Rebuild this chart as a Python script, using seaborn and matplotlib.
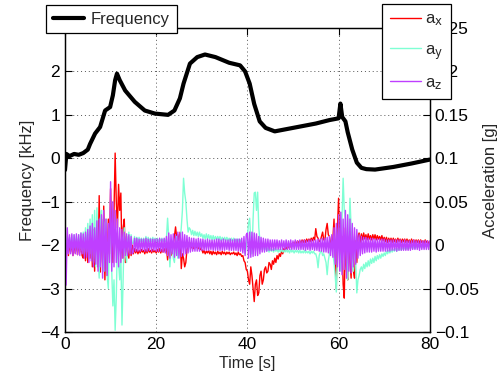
import numpy as np
import pandas as pd
import matplotlib
matplotlib.use("Agg")
import matplotlib.pyplot as plt
import seaborn as sns
from matplotlib.lines import Line2D

# frequency trace (kHz)
freq_t = [0, 0.3, 1, 2, 3, 4, 5, 5.5, 6.6, 7.7, 8.8, 9.9, 10.5, 11, 11.4, 12, 13.2,
          15.3, 17.5, 19.7, 22.6, 24, 25.2, 26, 27.4, 29, 30.7, 33, 36, 38.4, 39.5,
          40.5, 41.5, 42.7, 44, 46, 50, 55, 58, 60, 60.4, 60.8, 61.5, 62, 63, 64,
          65, 66.1, 68, 72, 76, 80]
freq_khz = [-0.27, 0.1, 0.05, 0.1, 0.08, 0.12, 0.2, 0.33, 0.57, 0.72, 1.1, 1.18, 1.45,
            1.8, 1.95, 1.8, 1.56, 1.3, 1.1, 1.03, 1.0, 1.1, 1.38, 1.72, 2.18, 2.33,
            2.39, 2.33, 2.2, 2.14, 2.0, 1.72, 1.25, 0.85, 0.7, 0.62, 0.7, 0.8, 0.88,
            0.92, 1.26, 0.95, 0.85, 0.6, 0.2, -0.1, -0.22, -0.25, -0.26, -0.2, -0.12,
            -0.03]

# accelerations in milli-g, one sample every 0.25 s (one row = 5 s)
accel_t = np.linspace(0, 80, 321)
ax_mg = [
    4, -10, 6, -12, 3, -8, 5, -12, 4, -9, 6, -11, 2, -8, 5, -12, -15, 8, -18, 10,
    -20, 12, -15, 15, -25, 18, -30, 10, 20, -25, 57, -31, 30, -20, 45, -40, 15, -35, 30, -10,
    65, 10, -20, 40, 106, 50, 20, 70, 40, 60, -15, 20, 30, -20, 10, -10, -15, 5, -12, 0,
    -10, -4, -9, -5, -10, -6, -9, -5, -8, -6, -10, -5, -9, -4, -8, -6, -9, -5, -8, -6,
    -9, -5, -8, -4, -9, -5, -8, -4, -8, -3, -17, -5, 0, -12, -8, 2, 10, 21, 8, 12,
    5, 15, -27, -10, -15, -25, -20, -5, -2, 3, 2, -3, 1, -4, 0, -3, 1, -4, -2, -5,
    -5, -9, -6, -10, -7, -9, -6, -10, -7, -11, -7, -10, -8, -11, -7, -10, -8, -11, -7, -10,
    -8, -11, -8, -10, -8, -11, -9, -10, -8, -11, -9, -12, -8, -11, -10, -13, -12, -18, -20, -28,
    -30, -40, -45, -25, -35, -50, -65, -45, -40, -58, -55, -35, -30, -45, -40, -28, -25, -32, -30, -20,
    -22, -28, -18, -22, -15, -20, -12, -16, -10, -13, -6, -10, -4, -7, -2, -5, 0, -3, 2, -1,
    3, 0, 4, 1, 5, 2, 5, 2, 6, 3, 6, 3, 7, 4, 7, 4, 8, 5, 9, 6,
    19, 10, 8, 4, 5, 10, 15, 6, 6, 18, 25, 12, 10, 2, 0, 8, 30, -10, -50, 20,
    54, -5, -20, 10, -45, -61, 20, -30, -40, 10, -20, -38, 15, -30, -38, 5, -20, 10, 14, 3,
    13, 6, 14, 7, 12, 6, 13, 7, 11, 6, 12, 7, 12, 6, 11, 7, 10, 6, 11, 5,
    9, 4, 9, 3, 8, 4, 8, 3, 8, 4, 7, 3, 8, 4, 7, 3, 7, 4, 7, 3,
    7, 3, 6, 2, 7, 3, 6, 2, 6, 3, 6, 2, 6, 3, 5, 2, 6, 3, 5, 2,
    4]
ay_mg = [
    8, -4, 10, -3, 9, -4, 11, -5, 12, -3, 10, -5, 12, -4, 14, -6, 15, -10, 20, -8,
    25, -15, 30, -10, 35, -20, 40, -25, 43, -15, -38, 30, 40, -20, -30, 25, 30, -35, -50, 10,
    20, -30, -70, -40, -98, -60, 10, -20, -40, -10, -92, -40, 20, -10, -20, 5, 15, 0, 12, 2,
    2, 10, 3, 9, 3, 9, 4, 8, 4, 8, 2, 10, 3, 9, 4, 8, 4, 9, 4, 8,
    4, 8, 4, 7, 5, 8, 4, 7, 4, 8, 31, 10, -25, -5, 5, -15, -20, 0, 10, -15,
    -10, 5, 20, 40, 77, 60, 50, 30, 15, 20, 18, 12, 17, 11, 16, 11, 15, 10, 15, 10,
    13, 8, 12, 7, 13, 7, 12, 7, 11, 6, 11, 6, 10, 6, 10, 6, 10, 5, 9, 5,
    9, 5, 9, 5, 8, 4, 8, 4, 8, 4, 7, 4, 7, 3, 6, 2, -5, 0, -10, -2,
    10, 25, 31, 5, -10, 30, 60, 61, 40, 61, 20, 5, -5, 2, 0, -6, -2, -7, -3, -8,
    -4, -7, -5, -8, -4, -7, -5, -8, -5, -8, -5, -8, -6, -8, -5, -8, -6, -9, -5, -8,
    -6, -9, -6, -8, -6, -9, -6, -9, -7, -9, -6, -9, -7, -9, -7, -10, -7, -9, -7, -10,
    -10, -15, -26, -12, -8, -6, -12, -10, -15, -20, -34, -18, -10, -5, 0, -10, -20, -35, -54, -10,
    20, -10, -30, 30, 77, 40, 30, -20, -40, 10, 54, 20, -20, -30, 10, -20, -55, -40, -35, -28,
    -25, -30, -22, -27, -20, -25, -18, -24, -16, -21, -15, -20, -13, -18, -12, -16, -11, -15, -10, -13,
    -9, -12, -7, -10, -6, -9, -5, -8, -5, -7, -4, -7, -4, -6, -3, -6, -3, -5, -3, -5,
    -2, -5, -2, -4, -1, -4, -1, -4, -1, -3, 0, -3, 0, -3, 0, -3, 1, -2, 0, -2,
    0]
az_mg = [
    43, -46, 20, -10, 12, -10, 13, -12, 12, -10, 13, -11, 12, -12, 14, -10, 13, -15, 15, -14,
    18, -20, 22, -18, 25, -25, 20, -22, 28, -30, 30, -25, 35, -38, 40, -30, 30, -35, 25, -20,
    73, -30, 50, -25, 40, -20, 30, -25, 20, -20, 18, -15, 15, -12, 13, -12, 12, -10, 10, -10,
    -8, 8, -7, 8, -7, 7, -7, 7, -6, 7, -7, 8, -7, 7, -6, 7, -7, 7, -6, 7,
    -7, 7, -7, 8, -7, 7, -8, 8, -9, 10, -12, 14, -15, 12, -10, 13, -14, 12, -12, 15,
    -15, 14, -13, 15, -12, 12, -10, 11, -9, 9, -8, 8, -7, 8, -7, 7, -7, 8, -7, 7,
    -6, 7, -6, 6, -6, 7, -6, 6, -5, 6, -6, 6, -6, 7, -6, 7, -6, 6, -6, 7,
    -6, 6, -5, 6, -6, 7, -6, 6, -6, 7, -6, 7, -7, 7, -7, 8, -9, 10, -12, 12,
    14, -15, 15, -14, 15, -13, 14, -12, 13, -12, 10, -10, 9, -8, 8, -8, 7, -7, 7, -6,
    6, -6, 6, -6, 6, -5, 6, -5, 5, -5, 6, -5, 5, -5, 6, -5, 5, -5, 6, -5,
    5, -5, 6, -5, 5, -5, 6, -5, 5, -5, 6, -6, 5, -5, 6, -6, 6, -5, 6, -6,
    6, -6, 7, -7, 7, -7, 8, -8, 8, -8, 9, -9, 10, -12, 12, -14, 20, -22, 25, -25,
    35, -30, 38, -34, 30, -28, 40, -38, 35, -30, 30, -32, 25, -25, 20, -22, 18, -15, 12, -12,
    10, -10, 9, -9, 9, -8, 8, -8, 8, -8, 8, -7, 7, -8, 7, -7, 7, -7, 7, -7,
    7, -7, 6, -7, 6, -7, 6, -6, 6, -6, 6, -7, 6, -6, 6, -6, 5, -6, 6, -6,
    5, -6, 5, -6, 5, -5, 6, -5, 5, -5, 5, -6, 5, -5, 5, -5, 5, -5, 5, -5,
    5]

series_names = ["a$_\\mathrm{x}$", "a$_\\mathrm{y}$", "a$_\\mathrm{z}$"]
series_colors = ["#ff0000", "#7fffd4", "#bf3fff"]

left_ticks = [-4, -3, -2, -1, 0, 1, 2, 3]
right_ticks = [-0.1, -0.05, 0, 0.05, 0.1, 0.15, 0.2, 0.25]
right_labels = ["\u22120.1", "\u22120.05", "0", "0.05", "0.1", "0.15", "0.2", "0.25"]
x_ticks = [0, 20, 40, 60, 80]

for vals in (ax_mg, ay_mg, az_mg):
    assert len(vals) == len(accel_t), len(vals)

sns.set_style("white")
plt.rcParams["font.family"] = ["Liberation Sans", "DejaVu Sans"]
plt.rcParams["mathtext.default"] = "regular"

accel = pd.concat([
    pd.DataFrame({"t": accel_t, "g": np.array(vals) / 1000.0, "axis": name})
    for name, vals in zip(series_names, [ax_mg, ay_mg, az_mg])
])
freq = pd.DataFrame({"t": freq_t, "f": freq_khz})

fig = plt.figure(figsize=(4.98, 3.75), dpi=100)
ax = fig.add_axes([0.1305, 0.1147, 0.7325, 0.8106])
ax2 = ax.twinx()

sns.lineplot(data=freq, x="t", y="f", ax=ax, color="black", lw=3.0,
             sort=False, estimator=None, legend=False)
sns.lineplot(data=accel, x="t", y="g", hue="axis", palette=series_colors,
             ax=ax2, lw=1.0, sort=False, estimator=None, legend=False)

ax.set_xlim(0, 80)
ax.set_ylim(-4, 3)
ax2.set_ylim(-0.1, 0.25)
ax.set_xticks(x_ticks)
ax.set_yticks(left_ticks)
ax.set_yticklabels([str(v).replace("-", "\u2212") for v in left_ticks])
ax2.set_yticks(right_ticks)
ax2.set_yticklabels(right_labels)

ax.grid(True, color="#555555", linestyle=(0, (1, 3)), linewidth=0.7)
for a in (ax, ax2):
    a.tick_params(direction="in", length=5, width=0.8, labelsize=12.5, colors="black")
    for s in a.spines.values():
        s.set_color("black")
        s.set_linewidth(0.9)
ax.tick_params(top=True, right=False)
ax2.tick_params(left=False)

ax.set_xlabel("Time [s]", fontsize=11.5, labelpad=3)
ax.set_ylabel("Frequency [kHz]", fontsize=12, labelpad=4)
ax2.set_ylabel("Acceleration [g]", fontsize=12, labelpad=3)

freq_handle = [Line2D([], [], color="black", lw=3.0)]
leg1 = ax2.legend(freq_handle, ["Frequency"], loc="upper left",
                  bbox_to_anchor=(46 / 498, 1 - 5 / 375), bbox_transform=fig.transFigure,
                  fontsize=12, frameon=True, fancybox=False, framealpha=1,
                  handlelength=1.9, borderpad=0.4, handletextpad=0.4, borderaxespad=0)
leg1.get_frame().set_edgecolor("black")
leg1.get_frame().set_linewidth(0.9)
ax2.add_artist(leg1)

accel_handles = [Line2D([], [], color=c, lw=1.0) for c in series_colors]
leg2 = ax2.legend(accel_handles, series_names, loc="upper left",
                  bbox_to_anchor=(382 / 498, 1 - 4 / 375), bbox_transform=fig.transFigure,
                  fontsize=12, frameon=True, fancybox=False, framealpha=1,
                  handlelength=1.9, borderpad=0.45, handletextpad=0.25, labelspacing=0.82,
                  borderaxespad=0)
leg2.get_frame().set_edgecolor("black")
leg2.get_frame().set_linewidth(0.9)

fig.savefig("out.png", dpi=100)
